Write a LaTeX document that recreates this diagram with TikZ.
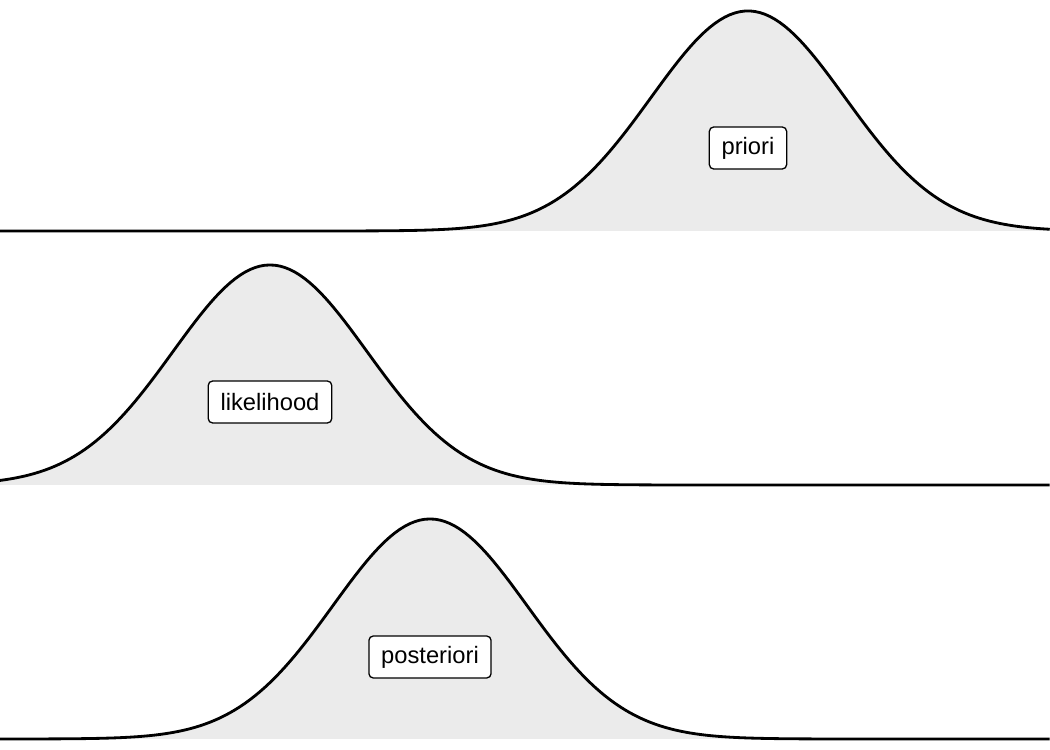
\documentclass[tikz,border=0pt]{standalone}
\usepackage{fontspec}
\setmainfont{Liberation Sans}
\definecolor{areagrey}{HTML}{EBEBEB}
\tikzset{
  curve/.style={line width=1.6pt, samples=211, domain=0:10.5},
  area/.style={fill=areagrey, samples=211, domain=0:10.5},
  tag/.style={draw, fill=white, rounded corners=2.5pt, line width=0.75pt,
    inner xsep=7pt, inner ysep=0pt, minimum height=0.84cm,
    font=\fontsize{13.5}{15}\selectfont},
  declare function={bell(\x,\m)=2.2*exp(-((\x-\m)^2)/(2*0.97^2));}
}
\begin{document}
\begin{tikzpicture}[x=2cm,y=2cm]
    \useasboundingbox (0,0) rectangle (10.5,7.5);
    % priori
    \fill[area] (0,5.19) -- plot (\x,{5.19+bell(\x,7.48)}) -- (10.5,5.19) -- cycle;
    \draw[curve] plot (\x,{5.19+bell(\x,7.48)});
    \node[tag] (priori) at (7.48,6.02) {priori};
    % likelihood
    \fill[area] (0,2.65) -- plot (\x,{2.65+bell(\x,2.70)}) -- (10.5,2.65) -- cycle;
    \draw[curve] plot (\x,{2.65+bell(\x,2.70)});
    \node[tag] (likelihood) at (2.70,3.48) {likelihood};
    % posteriori
    \fill[area] (0,0.11) -- plot (\x,{0.11+bell(\x,4.30)}) -- (10.5,0.11) -- cycle;
    \draw[curve] plot (\x,{0.11+bell(\x,4.30)});
    \node[tag] (posteriori) at (4.30,0.93) {posteriori};
\end{tikzpicture}
\end{document}
